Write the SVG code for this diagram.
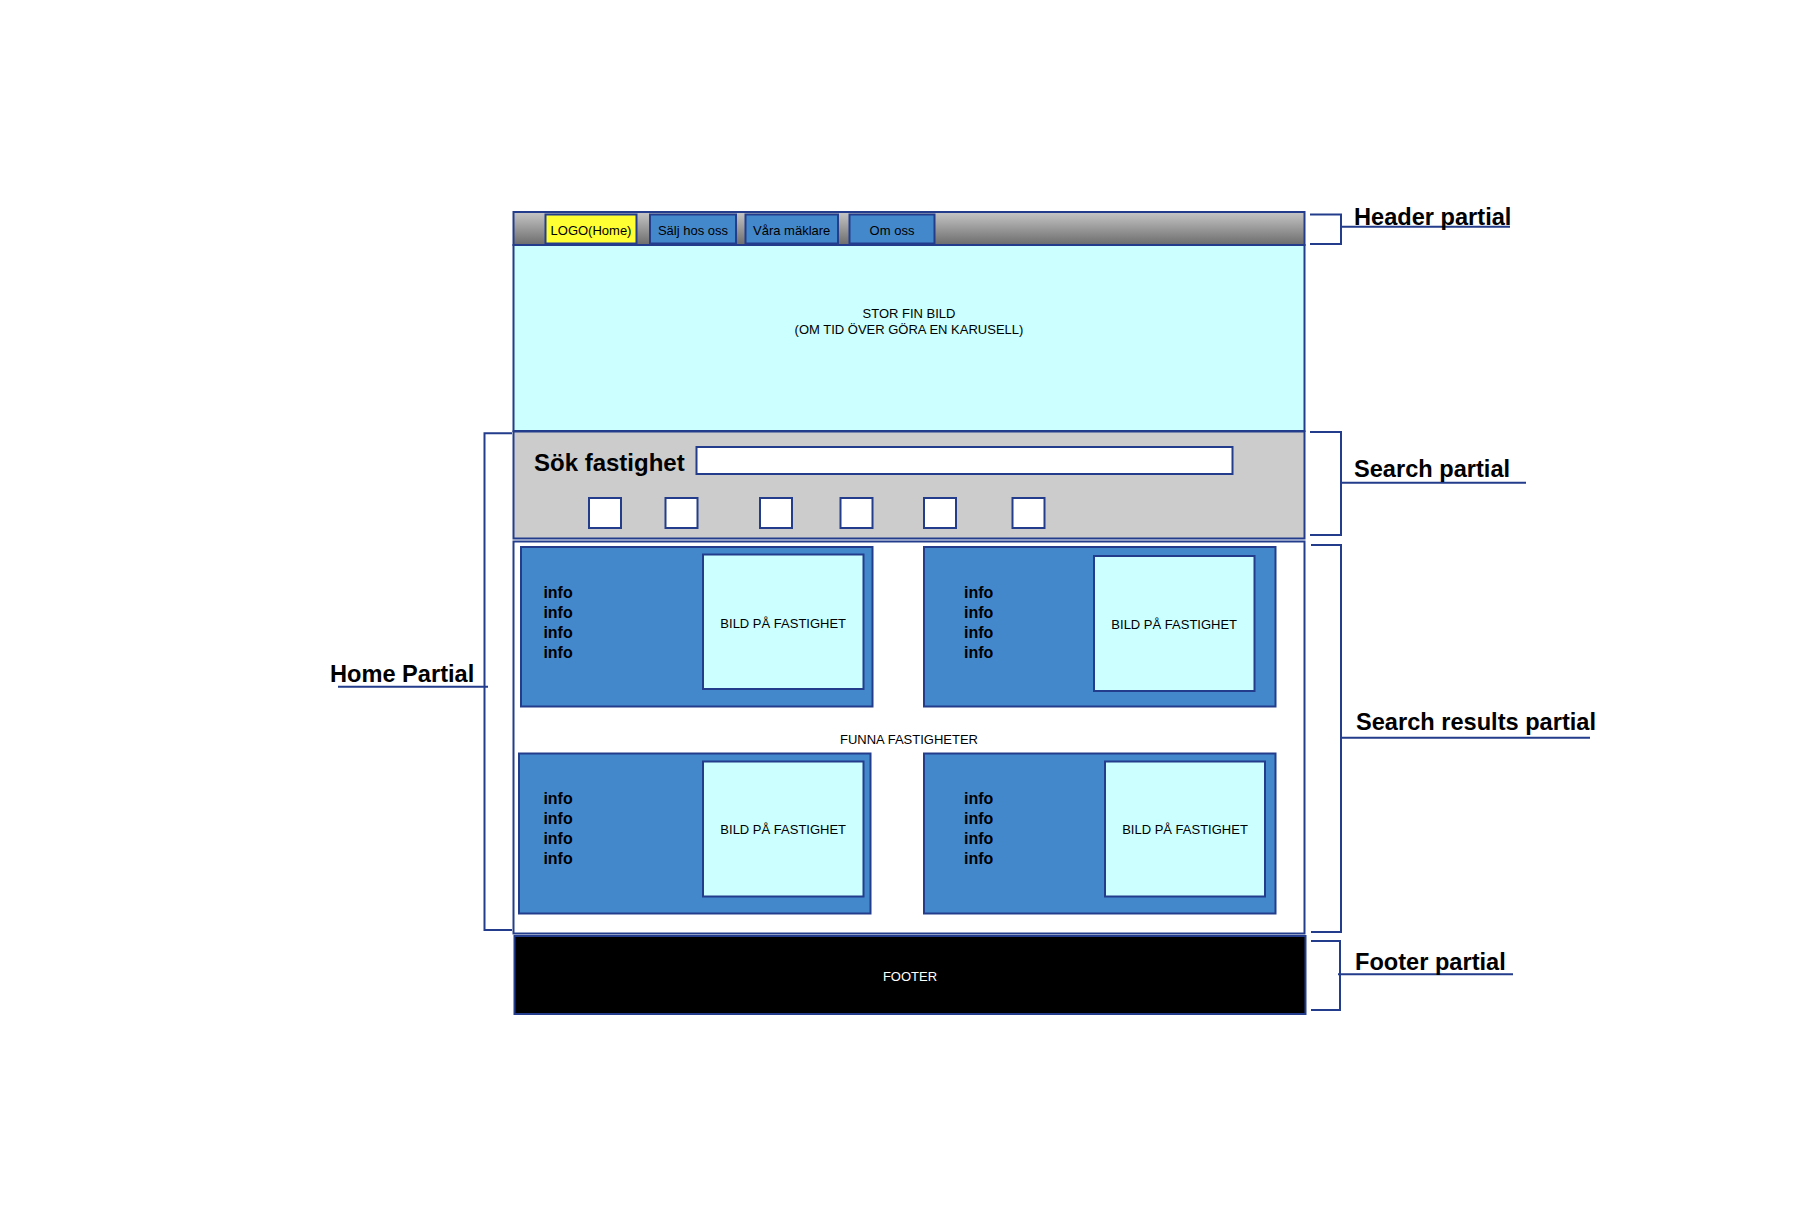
<svg xmlns="http://www.w3.org/2000/svg" width="1798" height="1215" viewBox="0 0 1798 1215">
<defs>
<linearGradient id="hdr" x1="0" y1="0" x2="0" y2="1">
<stop offset="0" stop-color="#c6c6c6"/>
<stop offset="1" stop-color="#6c6c6c"/>
</linearGradient>
<style>
.b{stroke:#233d8c;stroke-width:2}
.nav{fill:#4488cc}
.card{fill:#4488cc}
.img{fill:#ccffff}
.t{font-family:"Liberation Sans",Arial,sans-serif;font-size:13px;fill:#000}
.c{text-anchor:middle}
.info{font-family:"Liberation Sans",Arial,sans-serif;font-size:16px;font-weight:bold;fill:#000}
.lbl{font-family:"Liberation Sans",Arial,sans-serif;font-size:23.6px;font-weight:bold;fill:#000}
.br{fill:none;stroke:#233d8c;stroke-width:2}
</style>
</defs>
<rect width="1798" height="1215" fill="#ffffff"/>

<g id="header">
<rect class="b" x="513.5" y="212" width="791" height="33" fill="url(#hdr)"/>
<g id="nav-logo"><rect class="b" x="545.5" y="214.5" width="91" height="29" fill="#ffff33"/><text class="t c" x="591" y="235">LOGO(Home)</text></g>
<g id="nav-salj"><rect class="b nav" x="650" y="214.5" width="86" height="29"/><text class="t c" x="693" y="235">Sälj hos oss</text></g>
<g id="nav-maklare"><rect class="b nav" x="745.5" y="214.5" width="92.5" height="29"/><text class="t c" x="791.7" y="235">Våra mäklare</text></g>
<g id="nav-om"><rect class="b nav" x="849.5" y="214.5" width="85" height="29"/><text class="t c" x="892" y="235">Om oss</text></g>
</g>

<g id="hero">
<rect class="b img" x="513.5" y="245" width="791" height="186"/>
<text class="t c" x="909" y="318.3">STOR FIN BILD</text>
<text class="t c" x="909" y="334.3">(OM TID ÖVER GÖRA EN KARUSELL)</text>
</g>

<g id="search">
<rect class="b" x="513.5" y="431.5" width="791" height="107" fill="#cccccc"/>
<text class="lbl" x="534" y="470.5" style="font-size:24px">Sök fastighet</text>
<rect class="b" x="696.5" y="447" width="536" height="27" fill="#ffffff"/>
<g fill="#ffffff">
<rect class="b" x="589" y="498" width="32" height="30"/>
<rect class="b" x="665.5" y="498" width="32" height="30"/>
<rect class="b" x="760" y="498" width="32" height="30"/>
<rect class="b" x="840.5" y="498" width="32" height="30"/>
<rect class="b" x="924" y="498" width="32" height="30"/>
<rect class="b" x="1012.5" y="498" width="32" height="30"/>
</g>
</g>

<g id="results">
<rect class="b" x="513.5" y="541.5" width="791" height="392" fill="#ffffff"/>
<text class="t c" x="909" y="744.3">FUNNA FASTIGHETER</text>
</g>

<g id="card1">
<rect class="b card" x="521" y="547" width="351.5" height="159.5"/>
<rect class="b img" x="703" y="554.5" width="160.5" height="134.5"/>
<text class="t c" x="783.2" y="627.7">BILD PÅ FASTIGHET</text>
<text class="info" x="543.4" y="597.5">info</text>
<text class="info" x="543.4" y="617.5">info</text>
<text class="info" x="543.4" y="637.5">info</text>
<text class="info" x="543.4" y="657.5">info</text>
</g>

<g id="card2">
<rect class="b card" x="924" y="547" width="351.5" height="159.5"/>
<rect class="b img" x="1094" y="556" width="160.5" height="135"/>
<text class="t c" x="1174.2" y="629.3">BILD PÅ FASTIGHET</text>
<text class="info" x="964" y="597.5">info</text>
<text class="info" x="964" y="617.5">info</text>
<text class="info" x="964" y="637.5">info</text>
<text class="info" x="964" y="657.5">info</text>
</g>

<g id="card3">
<rect class="b card" x="519" y="753.5" width="351.5" height="160"/>
<rect class="b img" x="703" y="761.5" width="160.5" height="135"/>
<text class="t c" x="783.2" y="834.3">BILD PÅ FASTIGHET</text>
<text class="info" x="543.4" y="803.5">info</text>
<text class="info" x="543.4" y="823.5">info</text>
<text class="info" x="543.4" y="843.5">info</text>
<text class="info" x="543.4" y="863.5">info</text>
</g>

<g id="card4">
<rect class="b card" x="924" y="753.5" width="351.5" height="160"/>
<rect class="b img" x="1105" y="761.5" width="160" height="135"/>
<text class="t c" x="1185" y="834.3">BILD PÅ FASTIGHET</text>
<text class="info" x="964" y="803.5">info</text>
<text class="info" x="964" y="823.5">info</text>
<text class="info" x="964" y="843.5">info</text>
<text class="info" x="964" y="863.5">info</text>
</g>

<g id="footer">
<rect class="b" x="514.5" y="936" width="791" height="78" fill="#000000"/>
<text class="t c" x="910" y="981" style="fill:#ffffff">FOOTER</text>
</g>

<g id="connectors">
<path class="br" d="M1310,214.5 H1341 V244 H1310 M1341,226.7 H1510"/>
<path class="br" d="M1310,432 H1341 V535 H1310 M1341,482.7 H1526"/>
<path class="br" d="M1311,545 H1341 V932 H1311 M1341,737.7 H1590"/>
<path class="br" d="M1311,941 H1340 V1010 H1311 M1338,974.3 H1513"/>
<path class="br" d="M512,433.3 H484.5 V930 H512 M488,686.7 H338"/>
</g>

<g id="labels">
<text class="lbl" x="1354" y="224.5">Header partial</text>
<text class="lbl" x="1354" y="476.5">Search partial</text>
<text class="lbl" x="1356" y="729.5">Search results partial</text>
<text class="lbl" x="1355" y="969.5">Footer partial</text>
<text class="lbl" x="330" y="681.5">Home Partial</text>
</g>
</svg>
